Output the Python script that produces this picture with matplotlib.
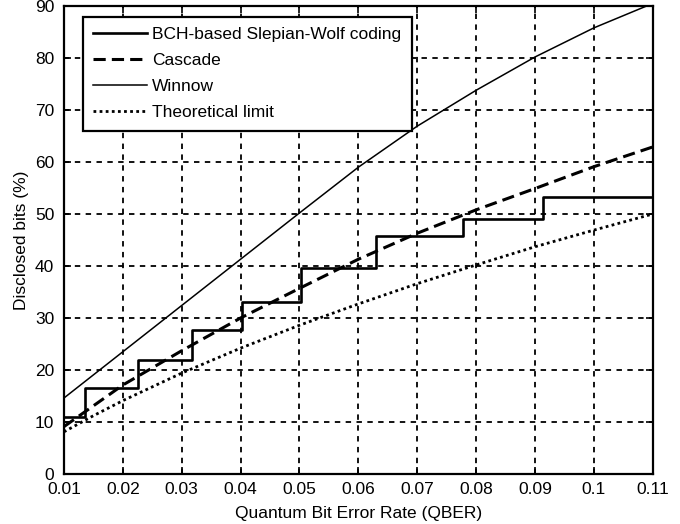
import matplotlib
matplotlib.use("Agg")
import matplotlib.pyplot as plt

plt.rcParams['font.family'] = ['Liberation Sans', 'DejaVu Sans']

# QBER sample points
qber = [0.01, 0.02, 0.03, 0.04, 0.05, 0.06, 0.07, 0.08, 0.09, 0.10, 0.11]

# Disclosed bits (%) per reconciliation scheme
winnow = [14.6, 23.5, 32.4, 41.3, 50.2, 59.0, 66.9, 73.8, 80.2, 85.8, 90.5]
cascade = [9.1, 17.1, 23.7, 30.0, 35.7, 41.3, 46.3, 50.8, 54.9, 59.1, 62.9]
theory_qber = [0.01, 0.015, 0.02, 0.03, 0.04, 0.05, 0.06, 0.07, 0.08, 0.09, 0.10, 0.11]
theory = [8.1, 11.2, 14.1, 19.4, 24.2, 28.6, 32.7, 36.6, 40.2, 43.7, 46.9, 50.0]

# BCH-based Slepian-Wolf coding: piecewise-constant rate
bch_edges = [0.01, 0.0135, 0.0225, 0.0317, 0.0403, 0.0503, 0.0630, 0.0777, 0.0914, 0.11]
bch_levels = [10.9, 16.5, 21.9, 27.6, 33.0, 39.6, 45.7, 49.0, 53.2]

xticks = [0.01, 0.02, 0.03, 0.04, 0.05, 0.06, 0.07, 0.08, 0.09, 0.10, 0.11]
xticklabels = ['0.01', '0.02', '0.03', '0.04', '0.05', '0.06', '0.07', '0.08', '0.09', '0.1', '0.11']
yticks = [0, 10, 20, 30, 40, 50, 60, 70, 80, 90]

fig = plt.figure(figsize=(6.8, 5.24), dpi=100)
ax = fig.add_axes([0.094, 0.0955, 0.866, 0.893])

bch_x = bch_edges
bch_y = bch_levels + [bch_levels[-1]]
ax.plot(bch_x, bch_y, drawstyle='steps-post', color='black', lw=1.9,
        label='BCH-based Slepian-Wolf coding')
ax.plot(qber, cascade, color='black', lw=2.2, linestyle=(0, (4, 2)), label='Cascade')
ax.plot(qber, winnow, color='black', lw=1.1, label='Winnow')
ax.plot(theory_qber, theory, color='black', lw=2.0, linestyle=(0, (1, 1.2)),
        label='Theoretical limit')

ax.set_xlim(0.01, 0.11)
ax.set_ylim(0, 90)
ax.set_xticks(xticks)
ax.set_xticklabels(xticklabels)
ax.set_yticks(yticks)
ax.tick_params(direction='in', top=True, right=True, length=5, width=1.2,
               labelsize=12.5, colors='black')
ax.tick_params(axis='x', pad=6)
ax.tick_params(axis='y', pad=7)
for s in ax.spines.values():
    s.set_linewidth(1.6)

ax.grid(True, color='black', linestyle=(0, (3, 3)), linewidth=1.3)
ax.set_axisbelow(True)

ax.set_xlabel('Quantum Bit Error Rate (QBER)', fontsize=12.5, labelpad=6)
ax.set_ylabel('Disclosed bits (%)', fontsize=12.5, labelpad=4)

leg = ax.legend(loc='upper left', bbox_to_anchor=(0.032, 0.977), fontsize=12.5,
                frameon=True, fancybox=False, edgecolor='black', framealpha=1,
                handlelength=3.1, borderpad=0.6, labelspacing=0.62, handletextpad=0.3,
                borderaxespad=0)
leg.get_frame().set_linewidth(1.6)

fig.savefig('out.png', dpi=100)
